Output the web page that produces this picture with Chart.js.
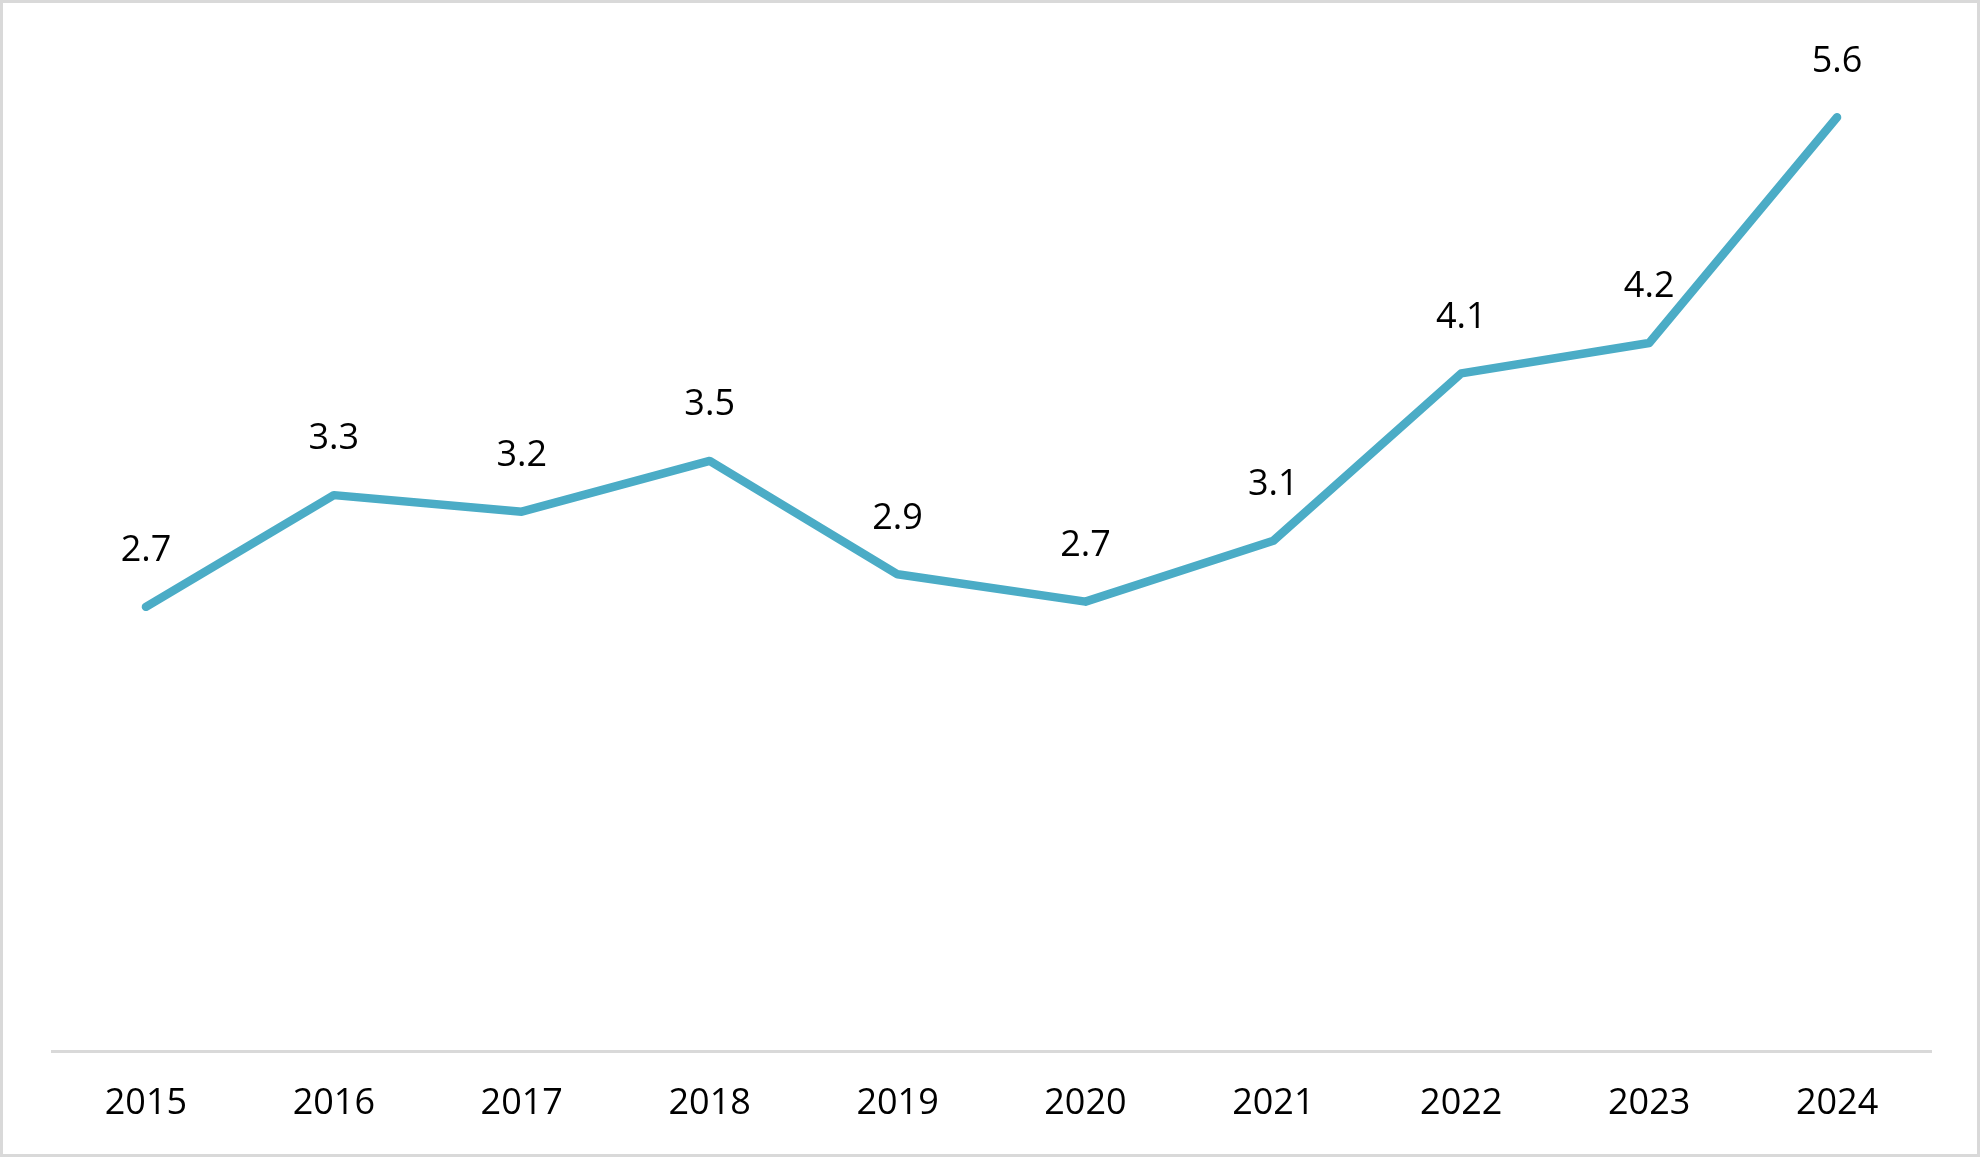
<!DOCTYPE html>
<html lang="en">
<head>
  <meta charset="UTF-8" />
  <title>Yearly line</title>
  <script src="https://cdn.jsdelivr.net/npm/chart.js"></script>
  <style>
    * { margin: 0; padding: 0; box-sizing: border-box; }
    body { width: 1982px; height: 1157px; background: #fff; overflow: hidden; position: relative; }
    canvas { position: absolute; left: 0; top: 0; }
    .frame {
      position: absolute; left: 0; top: 0;
      width: 1980px; height: 1157px;
      border: 3px solid #d9d9d9;
      pointer-events: none;
    }
  </style>
</head>
<body>
<canvas id="myChart" width="1982" height="1157"></canvas>
<div class="frame"></div>
<script>
  // years on the x axis
  const years = ["2015", "2016", "2017", "2018", "2019", "2020", "2021", "2022", "2023", "2024"];
  // values (labels show one decimal)
  const values = [2.665, 3.334, 3.235, 3.539, 2.86, 2.696, 3.061, 4.063, 4.245, 5.597];
  const yMin = 0;
  const yMax = 6;

  const lineColor = "#4bacc6";
  const fontFamily = "'Open Sans', 'Noto Sans', sans-serif";

  // value labels above each point
  const valueLabels = {
    id: "valueLabels",
    afterDatasetsDraw(chart) {
      const ctx = chart.ctx;
      const meta = chart.getDatasetMeta(0);
      ctx.save();
      ctx.font = "36px " + fontFamily;
      ctx.fillStyle = "#000";
      ctx.textAlign = "center";
      ctx.textBaseline = "middle";
      meta.data.forEach((pt, i) => {
        ctx.fillText(values[i].toFixed(1), pt.x, pt.y - 56);
      });
      ctx.restore();
    }
  };

  const ctx = document.getElementById("myChart").getContext("2d");
  new Chart(ctx, {
    type: "line",
    data: {
      labels: years,
      datasets: [{
        data: values,
        borderColor: lineColor,
        backgroundColor: lineColor,
        borderWidth: 8.5,
        borderCapStyle: "round",
        borderJoinStyle: "round",
        pointRadius: 0,
        tension: 0,
        fill: false
      }]
    },
    options: {
      responsive: false,
      animation: false,
      layout: { padding: { left: 52, right: 51, top: 50, bottom: 2 } },
      plugins: { legend: { display: false }, tooltip: { enabled: false } },
      scales: {
        x: {
          offset: true,
          grid: { display: false, drawTicks: false },
          border: { display: true, color: "#d9d9d9", width: 3 },
          ticks: { color: "#000", padding: 30, font: { size: 36, family: fontFamily } }
        },
        y: {
          display: false,
          min: yMin,
          max: yMax
        }
      }
    },
    plugins: [valueLabels]
  });
</script>
</body>
</html>
